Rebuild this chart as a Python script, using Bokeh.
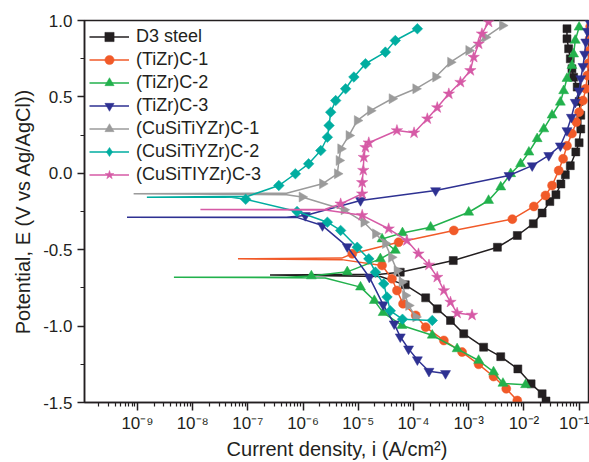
import numpy as np
from bokeh.plotting import figure
from bokeh.models import (FixedTicker, SingleIntervalTicker, PrintfTickFormatter,
                          CustomJSTickFormatter, Legend, LegendItem, Range1d)
from bokeh.embed import file_html
from bokeh.resources import INLINE

# ---------------- data (current as log10(i), potential E in V) -------------
names = ["D3 steel", "(TiZr)C-1", "(TiZr)C-2", "(TiZr)C-3",
         "(CuSiTiYZr)C-1", "(CuSiTiYZr)C-2", "(CuSiTIYZr)C-3"]

# corrosion potential and lowest current reached at it (spike tip)
ecorr = [-0.665, -0.560, -0.680, -0.287, -0.134, -0.156, -0.237]
tip_logi = [-6.6, -7.18, -8.34, -9.19, -9.07, -8.83, -7.86]

# D3 steel
d3_cat_logi = [-4.6, -4.15, -3.78, -3.57, -3.33, -3.09, -2.73, -2.42, -2.11, -1.87, -1.67, -1.60]
d3_cat_e = [-0.675, -0.73, -0.815, -0.887, -0.963, -1.05, -1.138, -1.20, -1.28, -1.378, -1.443, -1.49]
d3_an_logi = [-4.6, -4.24, -3.28, -2.48, -2.12, -1.83, -1.67, -1.53, -1.42, -1.33, -1.25, -1.16,
              -1.06, -1.0, -0.97, -0.97, -1.0, -1.035, -1.10, -1.13, -1.16, -1.19, -1.22, -1.22]
d3_an_e = [-0.66, -0.647, -0.571, -0.484, -0.407, -0.33, -0.26, -0.185, -0.14, -0.07, -0.01, 0.05,
           0.14, 0.20, 0.29, 0.38, 0.47, 0.564, 0.629, 0.684, 0.749, 0.815, 0.88, 0.946]

# (TiZr)C-1
c1_cat_logi = [-5.3, -4.57, -4.39, -4.30, -4.19, -3.96, -3.78, -3.45, -3.12, -2.82, -2.55, -2.32, -2.12]
c1_cat_e = [-0.565, -0.603, -0.69, -0.767, -0.854, -0.93, -1.007, -1.094, -1.17, -1.25, -1.33, -1.41, -1.487]
c1_an_logi = [-5.3, -5.11, -4.27, -3.27, -2.21, -1.82, -1.61, -1.49, -1.37, -1.29, -1.22, -1.13,
              -1.05, -1.0, -0.93, -0.88, -0.85, -0.83, -0.82, -0.81, -0.80]
c1_an_e = [-0.555, -0.527, -0.451, -0.374, -0.30, -0.217, -0.145, -0.08, 0.018, 0.095, 0.18, 0.26,
           0.335, 0.40, 0.476, 0.553, 0.64, 0.72, 0.80, 0.88, 0.96]

# (TiZr)C-2
c2_cat_logi = [-5.6, -4.96, -4.71, -4.55, -4.21, -3.66, -3.21, -2.82, -2.55, -2.38, -1.97]
c2_cat_e = [-0.685, -0.745, -0.833, -0.912, -0.996, -1.06, -1.149, -1.225, -1.30, -1.375, -1.384]
c2_an_logi = [-6.3, -5.85, -5.2, -4.6, -4.33, -4.57, -4.2, -3.69, -3.0, -2.64, -2.42, -2.24, -2.06,
              -1.91, -1.76, -1.64, -1.49, -1.34, -1.28, -1.22, -1.13, -1.10, -1.07, -1.0]
c2_an_e = [-0.68, -0.672, -0.645, -0.56, -0.505, -0.43, -0.39, -0.353, -0.255, -0.178, -0.09, -0.003,
           0.062, 0.138, 0.226, 0.29, 0.38, 0.465, 0.54, 0.62, 0.705, 0.78, 0.87, 0.956]

# (TiZr)C-3
c3_cat_logi = [-6.1, -5.65, -5.2, -4.8, -4.55, -4.35, -4.24, -4.09, -3.93, -3.72, -3.42]
c3_cat_e = [-0.29, -0.342, -0.48, -0.68, -0.86, -0.985, -1.07, -1.149, -1.22, -1.295, -1.31]
c3_an_logi = [-6.3, -5.96, -4.96, -3.6, -2.27, -1.85, -1.55, -1.34, -1.22, -1.14, -1.07, -1.0,
              -0.97, -0.93, -0.90, -0.88, -0.85, -0.83]
c3_an_e = [-0.287, -0.276, -0.178, -0.113, -0.014, 0.05, 0.117, 0.18, 0.28, 0.367, 0.465, 0.54,
           0.62, 0.70, 0.78, 0.86, 0.93, 1.0]

# (CuSiTiYZr)C-1
h1_cat_logi = [-6.3, -6.02, -5.26, -4.90, -4.69, -4.51, -4.40, -4.30, -4.21, -4.15, -4.09, -3.96]
h1_cat_e = [-0.14, -0.155, -0.239, -0.32, -0.396, -0.46, -0.55, -0.636, -0.712, -0.80, -0.865, -0.94]
h1_an_logi = [-6.3, -5.65, -5.38, -5.35, -5.32, -5.17, -5.02, -4.78, -4.39, -3.96, -3.6, -3.33,
              -3.0, -2.70, -2.39]
h1_an_e = [-0.13, -0.069, -0.003, 0.084, 0.16, 0.247, 0.345, 0.41, 0.488, 0.553, 0.63, 0.727,
           0.804, 0.89, 0.967]

# (CuSiTiYZr)C-2
h2_cat_logi = [-7.3, -7.04, -6.11, -5.56, -5.32, -5.02, -4.81, -4.69, -4.54, -4.48, -4.42, -4.2, -3.66]
h2_cat_e = [-0.156, -0.17, -0.25, -0.32, -0.374, -0.484, -0.56, -0.647, -0.723, -0.81, -0.90, -0.955, -0.963]
h2_an_logi = [-7.0, -6.44, -6.14, -5.90, -5.68, -5.56, -5.53, -5.50, -5.41, -5.23, -5.08, -4.87,
              -4.51, -4.33, -3.93]
h2_an_e = [-0.15, -0.08, -0.003, 0.062, 0.149, 0.236, 0.313, 0.40, 0.476, 0.553, 0.63, 0.717,
           0.793, 0.869, 0.946]

# (CuSiTIYZr)C-3
h3_cat_logi = [-5.6, -4.93, -4.45, -4.12, -3.91, -3.72, -3.57, -3.45, -3.33, -3.21, -2.94]
h3_cat_e = [-0.24, -0.275, -0.363, -0.44, -0.527, -0.60, -0.68, -0.767, -0.843, -0.915, -0.928]
h3_an_logi = [-5.6, -5.32, -4.93, -4.93, -4.91, -4.90, -4.87, -4.81, -4.30, -3.99, -3.75, -3.57,
              -3.36, -3.15, -2.97, -2.91, -2.82, -2.76, -2.64]
h3_an_e = [-0.235, -0.20, -0.134, -0.06, 0.02, 0.105, 0.17, 0.20, 0.28, 0.265, 0.357, 0.43,
           0.52, 0.596, 0.673, 0.76, 0.847, 0.913, 0.99]

x_tick_exponents = [-9, -8, -7, -6, -5, -4, -3, -2, -1]

# ---------------- styling ----------------
colors = ["#231f20", "#f15a29", "#22b14c", "#2e3192", "#9b9b9b", "#00ada0", "#d65aa6"]
markers = ["square", "circle", "triangle", "inverted_triangle", "triangle", "square", "star"]
legend_markers = ["square", "circle", "triangle", "inverted_triangle", "triangle", "diamond", "star"]
msizes = [8, 9, 10, 10, 10, 7.5, 12]
angles = [0, 0, 0, 0, -np.pi / 2, np.pi / 4, 0]
FONT = "Liberation Sans"
INK = "#231f20"

series = [
    (d3_cat_logi, d3_cat_e, d3_an_logi, d3_an_e),
    (c1_cat_logi, c1_cat_e, c1_an_logi, c1_an_e),
    (c2_cat_logi, c2_cat_e, c2_an_logi, c2_an_e),
    (c3_cat_logi, c3_cat_e, c3_an_logi, c3_an_e),
    (h1_cat_logi, h1_cat_e, h1_an_logi, h1_an_e),
    (h2_cat_logi, h2_cat_e, h2_an_logi, h2_an_e),
    (h3_cat_logi, h3_cat_e, h3_an_logi, h3_an_e),
]

p = figure(width=589, height=462, x_axis_type="log",
           x_range=Range1d(10 ** -9.96, 10 ** -0.812), y_range=Range1d(-1.5, 1.0),
           output_backend="svg", toolbar_location=None,
           min_border_left=84, min_border_right=0, min_border_top=20, min_border_bottom=60)
p.xgrid.visible = False
p.ygrid.visible = False
p.outline_line_color = INK
p.outline_line_width = 1.5
p.background_fill_color = "white"
p.border_fill_color = "white"

items = []
for k, (cl, ce, al, ae) in enumerate(series):
    line_logi = list(cl[::-1]) + [tip_logi[k]] + list(al)
    line_e = list(ce[::-1]) + [ecorr[k]] + list(ae)
    lr = p.line(10.0 ** np.array(line_logi), line_e, line_color=colors[k], line_width=1.5)
    mk_x = 10.0 ** np.array(list(cl[1:]) + list(al[1:]))
    mk_e = list(ce[1:]) + list(ae[1:])
    leg_r = None
    if legend_markers[k] != markers[k]:
        # small glyph hidden beneath the rotated markers; it gives the legend its sample shape
        leg_r = p.scatter(mk_x, mk_e, marker=legend_markers[k], size=5,
                          fill_color=colors[k], line_color=colors[k], line_width=0.5)
    sr = p.scatter(mk_x, mk_e, marker=markers[k], size=msizes[k],
                   angle=angles[k], fill_color=colors[k], line_color=colors[k], line_width=0.5)
    items.append(LegendItem(label=names[k], renderers=[lr, leg_r if leg_r is not None else sr]))

legend = Legend(items=items, location="top_left")
legend.margin = 1
legend.padding = 4
legend.spacing = 0
legend.glyph_width = 40
legend.glyph_height = 23
legend.label_height = 20
legend.label_standoff = 7
legend.label_text_font = FONT
legend.label_text_font_size = "18px"
legend.label_text_color = INK
legend.background_fill_alpha = 0
legend.border_line_alpha = 0
p.add_layout(legend)

# x axis
p.xaxis.ticker = FixedTicker(
    ticks=[10.0 ** e for e in x_tick_exponents],
    minor_ticks=[m * 10.0 ** e for e in range(-10, 0) for m in range(2, 10)])
p.xaxis.formatter = CustomJSTickFormatter(code="""
const sup = {"-":"\u207b","0":"\u2070","1":"\u00b9","2":"\u00b2","3":"\u00b3","4":"\u2074",
             "5":"\u2075","6":"\u2076","7":"\u2077","8":"\u2078","9":"\u2079"};
const e = Math.round(Math.log10(tick));
return "10" + String(e).split("").map(c => sup[c]).join("");
""")
p.xaxis.axis_label = "Current density, i (A/cm\u00b2)"
p.xaxis.major_tick_out = 8
p.xaxis.major_tick_in = 0
p.xaxis.minor_tick_out = 4
p.xaxis.minor_tick_in = 0
p.xaxis.major_label_standoff = 3
p.xaxis.axis_label_standoff = 2

# y axis
p.yaxis.ticker = SingleIntervalTicker(interval=0.5, num_minor_ticks=2)
p.yaxis.formatter = PrintfTickFormatter(format="%.1f")
p.yaxis.axis_label = "Potential, E (V vs Ag/AgCl))"
p.yaxis.major_tick_out = 7
p.yaxis.major_tick_in = 0
p.yaxis.minor_tick_out = 4
p.yaxis.minor_tick_in = 0
p.yaxis.major_label_standoff = 5
p.yaxis.axis_label_standoff = 6

for ax in (p.xaxis, p.yaxis):
    ax.axis_line_color = INK
    ax.axis_line_width = 1.5
    ax.major_tick_line_color = INK
    ax.major_tick_line_width = 1.5
    ax.minor_tick_line_color = INK
    ax.minor_tick_line_width = 1.2
    ax.major_label_text_font = FONT
    ax.major_label_text_font_size = "17px"
    ax.major_label_text_color = INK
    ax.axis_label_text_font = FONT
    ax.axis_label_text_font_size = "20px"
    ax.axis_label_text_font_style = "normal"
    ax.axis_label_text_color = INK

open("out.html", "w").write(file_html(p, INLINE))
